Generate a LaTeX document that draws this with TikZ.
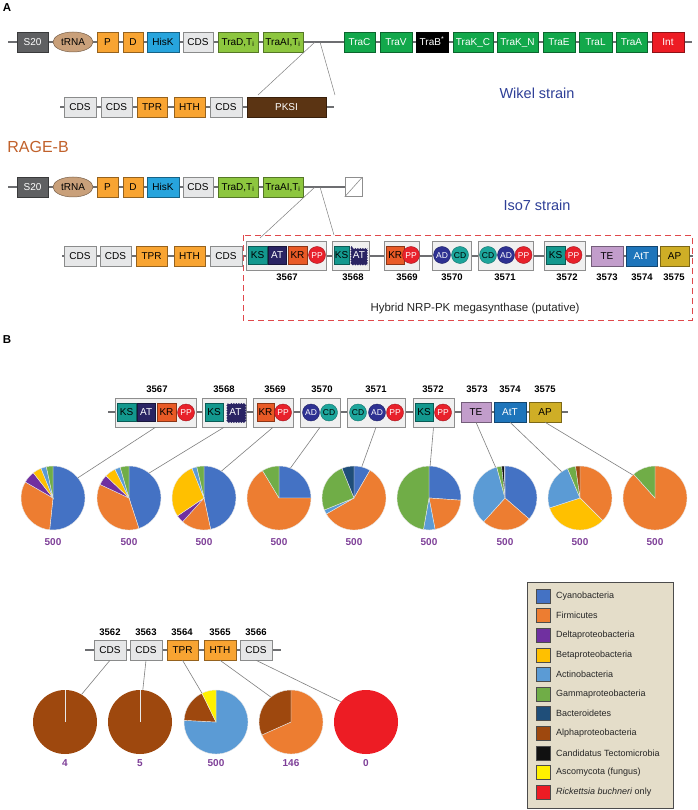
\documentclass[tikz,border=0pt]{standalone}
\usepackage{fontspec}
\setmainfont{Liberation Sans}
\usetikzlibrary{shapes.geometric,decorations.pathmorphing}
\definecolor{sTwenty}{HTML}{5F6062}
\definecolor{trnaC}{HTML}{C9A07A}
\definecolor{orgC}{HTML}{F8A432}
\definecolor{hisC}{HTML}{27A4DD}
\definecolor{cdsC}{HTML}{E6E7E8}
\definecolor{ltgC}{HTML}{8DC63F}
\definecolor{dkgC}{HTML}{12A84B}
\definecolor{intC}{HTML}{ED1C24}
\definecolor{pksC}{HTML}{5B3413}
\definecolor{ksC}{HTML}{13988E}
\definecolor{atC}{HTML}{2A2463}
\definecolor{krC}{HTML}{E95A26}
\definecolor{ppC}{HTML}{E8212B}
\definecolor{adC}{HTML}{2E3192}
\definecolor{cdC}{HTML}{1DA59B}
\definecolor{teC}{HTML}{C29DCB}
\definecolor{attC}{HTML}{1E75BB}
\definecolor{apC}{HTML}{CFAE26}
\definecolor{grpC}{HTML}{F0F0F0}
\definecolor{grpB}{HTML}{8E8E8E}
\definecolor{lineC}{HTML}{6D6E71}
\definecolor{connC}{HTML}{808080}
\definecolor{strainC}{HTML}{2E3F97}
\definecolor{rageC}{HTML}{C1612B}
\definecolor{numC}{HTML}{7E3F98}
\definecolor{legC}{HTML}{E4DDC9}
\definecolor{dashC}{HTML}{E0484B}
\definecolor{sepC}{HTML}{E8E8E8}
\definecolor{txCyano}{HTML}{4472C4}
\definecolor{txFirm}{HTML}{ED7D31}
\definecolor{txDelta}{HTML}{7030A0}
\definecolor{txBeta}{HTML}{FFC000}
\definecolor{txActino}{HTML}{5B9BD5}
\definecolor{txGamma}{HTML}{70AD47}
\definecolor{txBact}{HTML}{1F4E79}
\definecolor{txAlpha}{HTML}{9E480E}
\definecolor{txTecto}{HTML}{111111}
\definecolor{txAsco}{HTML}{FFF100}
\definecolor{txRick}{HTML}{ED1C24}
\newcommand{\gfont}{\fontsize{10}{12}\selectfont}
\newcommand{\cfont}{\fontsize{8.5}{10}\selectfont}
\newcommand{\nfont}{\bfseries\fontsize{9.5}{11}\selectfont}
\newcommand{\pfont}{\bfseries\fontsize{10}{12}\selectfont}
\newcommand{\lfont}{\fontsize{9}{11}\selectfont}
\tikzset{
  backbone/.style={draw=lineC, line width=1.3pt},
  conn/.style={draw=connC, line width=0.6pt},
  gene/.style={rectangle, fill=#1, draw=#1!60!black, line width=0.5pt, minimum height=20pt, inner sep=0pt, font=\gfont, text height=7.2pt, text depth=0.5pt},
  dom/.style={rectangle, fill=#1, draw=#1!60!black, line width=0.5pt, minimum height=18pt, inner sep=0pt, font=\gfont, text height=7.2pt, text depth=0.5pt},
  dcirc/.style={circle, fill=#1, draw=#1!70!black, line width=0.4pt, minimum size=17pt, inner sep=0pt, font=\cfont, text height=6pt, text depth=0pt},
  grp/.style={rectangle, fill=grpC, draw=grpB, line width=0.6pt, minimum height=29pt, inner sep=0pt},
  numlab/.style={font=\nfont, inner sep=0pt},
  cnt/.style={font=\pfont, text=numC, inner sep=0pt},
  pienode/.style={circle, minimum size=64pt, inner sep=0pt},
  sw/.style={rectangle, draw=black!70, line width=0.5pt, minimum size=14pt, inner sep=0pt},
  legtext/.style={font=\lfont, anchor=west, inner sep=0pt, text=black!85},
  trna/.style={ellipse, fill=trnaC, draw=trnaC!60!black, line width=0.5pt, minimum width=40pt, minimum height=20pt, inner sep=0pt, font=\gfont, text height=7.2pt, text depth=0.5pt},
}
% name x1 x2 y opts text
\newcommand{\gb}[6]{\node[#5, minimum width={#3-#2}] (#1) at ({(#2+#3)/2},#4) {#6};}
% name x y opts text
\newcommand{\dc}[5]{\node[#4] (#1) at (#2,#3) {#5};}
% name x1 x2 y text
\newcommand{\wavy}[5]{\fill[atC, decorate, decoration={snake, amplitude=0.6pt, segment length=2.5pt}] (#2,{#4-9}) rectangle (#3,{#4+9});
  \node[font=\gfont, text=white, inner sep=0pt, text height=7.2pt, text depth=0.5pt] (#1) at ({(#2+#3)/2},#4) {#5};}
% cx cy r a1 a2 colour
\newcommand{\slc}[6]{\filldraw[fill=#6, draw=sepC, line width=0.4pt] (#1,#2) -- ++({#4-90}:#3) arc[start angle={#4-90}, end angle={#5-90}, radius=#3] -- cycle;}
\newcommand{\pie}[3]{\foreach \aa/\bb/\cc in {#3} {\slc{#1}{#2}{32}{\aa}{\bb}{\cc}}}
\newcommand{\fullpie}[3]{\fill[#3] (#1,#2) circle[radius=32]; \draw[sepC, line width=0.5pt] (#1,#2) -- ++(0,-32);}
\begin{document}
\begin{tikzpicture}[x=1pt,y=-1pt]
\useasboundingbox (0,0) rectangle (697,810);
\fill[white] (0,0) rectangle (697,810);
% ---------------- Panel A ----------------
\node[font=\bfseries\fontsize{11.5}{12}\selectfont, inner sep=0pt] (labA) at (7,8) {A};
\node[font=\bfseries\fontsize{11.5}{12}\selectfont, inner sep=0pt] (labB) at (7,340) {B};
% backbones
\draw[backbone] (8,42) -- (692,42);
\draw[backbone] (60,107) -- (334,107);
\draw[backbone] (8,187) -- (345,187);
\draw[backbone] (62,256) -- (693,256);
\draw[backbone] (108,412) -- (568,412);
\draw[backbone] (85,650) -- (281,650);
% row 1
\gb{sA}{17}{48}{42}{gene=sTwenty,text=white}{S20}
\node[trna] (tA) at (73,42) {tRNA};
\gb{pA}{97}{118}{42}{gene=orgC}{P}
\gb{dA}{123}{143}{42}{gene=orgC}{D}
\gb{hA}{147}{179}{42}{gene=hisC}{HisK}
\gb{cA}{183}{213}{42}{gene=cdsC}{CDS}
\gb{tdA}{218}{258}{42}{gene=ltgC}{TraD,T\textsubscript{i}}
\gb{taA}{263}{303}{42}{gene=ltgC}{TraAI,T\textsubscript{i}}
\gb{trC}{344}{375}{42}{gene=dkgC,text=white}{TraC}
\gb{trV}{380}{412}{42}{gene=dkgC,text=white}{TraV}
\gb{trB}{416}{448}{42}{gene=black,text=white}{TraB\textsuperscript{*}}
\gb{trKC}{453}{493}{42}{gene=dkgC,text=white}{TraK\_C}
\gb{trKN}{497}{538}{42}{gene=dkgC,text=white}{TraK\_N}
\gb{trE}{543}{575}{42}{gene=dkgC,text=white}{TraE}
\gb{trL}{579}{612}{42}{gene=dkgC,text=white}{TraL}
\gb{trA}{616}{647}{42}{gene=dkgC,text=white}{TraA}
\gb{intA}{652}{684}{42}{gene=intC,text=white}{Int}
\node[font=\fontsize{14.5}{16}\selectfont, text=strainC, inner sep=0pt] (wikel) at (537,93) {Wikel strain};
% row 2 (Wikel insert)
\gb{cW1}{64}{96}{107}{gene=cdsC}{CDS}
\gb{cW2}{101}{132}{107}{gene=cdsC}{CDS}
\gb{tprW}{137}{167}{107}{gene=orgC}{TPR}
\gb{hthW}{174}{205}{107}{gene=orgC}{HTH}
\gb{cW3}{210}{242}{107}{gene=cdsC}{CDS}
\gb{pksW}{247}{326}{107}{gene=pksC,text=white}{PKSI}
\coordinate (jA1) at (315,42);
\coordinate (jA2) at (320,42);
\coordinate (wL) at (258,95);
\coordinate (wR) at (335,95);
\draw[conn, line width=0.5pt] (jA1) -- (wL);
\draw[conn, line width=0.5pt] (jA2) -- (wR);
\node[font=\fontsize{16}{18}\selectfont, text=rageC, inner sep=0pt] (rage) at (38,147) {RAGE-B};
% row 3
\gb{sB}{17}{48}{187}{gene=sTwenty,text=white}{S20}
\node[trna] (tB) at (73,187) {tRNA};
\gb{pB}{97}{118}{187}{gene=orgC}{P}
\gb{dB}{123}{143}{187}{gene=orgC}{D}
\gb{hB}{147}{179}{187}{gene=hisC}{HisK}
\gb{cB}{183}{213}{187}{gene=cdsC}{CDS}
\gb{tdB}{218}{258}{187}{gene=ltgC}{TraD,T\textsubscript{i}}
\gb{taB}{263}{303}{187}{gene=ltgC}{TraAI,T\textsubscript{i}}
\node[rectangle, draw=grpB, fill=white, line width=0.6pt, minimum width=17pt, minimum height=19pt, inner sep=0pt] (slashbox) at (353.5,187) {};
\draw[grpB, line width=0.6pt] (slashbox.south west) -- (slashbox.north east);
\node[font=\fontsize{14.5}{16}\selectfont, text=strainC, inner sep=0pt] (iso) at (537,205) {Iso7 strain};
% row 4 (Iso7 insert)
\gb{cI1}{64}{96}{256}{gene=cdsC}{CDS}
\gb{cI2}{100}{131}{256}{gene=cdsC}{CDS}
\gb{tprI}{136}{167}{256}{gene=orgC}{TPR}
\gb{hthI}{174}{205}{256}{gene=orgC}{HTH}
\gb{cI3}{210}{242}{256}{gene=cdsC}{CDS}
\gb{gI67}{246}{326}{255.5}{grp}{}
\gb{ksI67}{248}{267}{255}{dom=ksC}{KS}
\gb{atI67}{268.5}{286}{255}{dom=atC,text=white}{AT}
\gb{krI67}{288}{307}{255}{dom=krC}{KR}
\dc{ppI67}{317}{255}{dcirc=ppC,text=white}{PP}
\gb{gI68}{332}{369}{255.5}{grp}{}
\gb{ksI68}{334}{349}{255}{dom=ksC}{KS}
\wavy{atI68}{351}{367}{255}{AT}
\gb{gI69}{384}{419}{255.5}{grp}{}
\gb{krI69}{386.5}{404}{255}{dom=krC}{KR}
\dc{ppI69}{411}{255}{dcirc=ppC,text=white}{PP}
\gb{gI70}{432}{471}{255.5}{grp}{}
\dc{adI70}{442}{255}{dcirc=adC,text=white}{AD}
\dc{cdI70}{460}{255}{dcirc=cdC}{CD}
\gb{gI71}{478}{533}{255.5}{grp}{}
\dc{cdI71}{488}{255}{dcirc=cdC}{CD}
\dc{adI71}{506}{255}{dcirc=adC,text=white}{AD}
\dc{ppI71}{523.5}{255}{dcirc=ppC,text=white}{PP}
\gb{gI72}{544}{585}{255.5}{grp}{}
\gb{ksI72}{546}{565}{255}{dom=ksC}{KS}
\dc{ppI72}{573.5}{255}{dcirc=ppC,text=white}{PP}
\gb{teI}{591}{623}{256}{gene=teC}{TE}
\gb{attI}{626}{657}{256}{gene=attC,text=white}{AtT}
\gb{apI}{660}{689}{256}{gene=apC}{AP}
\node[numlab] (nI67) at (287,277) {3567};
\node[numlab] (nI68) at (353,277) {3568};
\node[numlab] (nI69) at (407,277) {3569};
\node[numlab] (nI70) at (452,277) {3570};
\node[numlab] (nI71) at (505,277) {3571};
\node[numlab] (nI72) at (567,277) {3572};
\node[numlab] (nI73) at (607,277) {3573};
\node[numlab] (nI74) at (642,277) {3574};
\node[numlab] (nI75) at (674,277) {3575};
\draw[dashC, dashed, dash pattern=on 6pt off 4pt, line width=0.8pt] (243,235) rectangle (692,320);
\node[font=\fontsize{11.5}{13}\selectfont, text=black!85, inner sep=0pt] (hyb) at (475,309) {Hybrid NRP-PK megasynthase (putative)};
\coordinate (jB1) at (315,187);
\coordinate (jB2) at (320,187);
\coordinate (iL) at (260,238);
\coordinate (iR) at (334,235);
\draw[conn, line width=0.5pt] (jB1) -- (iL);
\draw[conn, line width=0.5pt] (jB2) -- (iR);
% ---------------- Panel B ----------------
\gb{b67}{115}{196}{412.5}{grp}{}
\gb{ksB67}{117}{136}{412.5}{dom=ksC}{KS}
\gb{atB67}{137.5}{155}{412.5}{dom=atC,text=white}{AT}
\gb{krB67}{157}{176}{412.5}{dom=krC}{KR}
\dc{ppB67}{186}{412.5}{dcirc=ppC,text=white}{PP}
\gb{b68}{202}{246}{412.5}{grp}{}
\gb{ksB68}{205}{223}{412.5}{dom=ksC}{KS}
\wavy{atB68}{227}{244}{412.5}{AT}
\gb{b69}{253}{293}{412.5}{grp}{}
\gb{krB69}{257}{274}{412.5}{dom=krC}{KR}
\dc{ppB69}{283}{412.5}{dcirc=ppC,text=white}{PP}
\gb{b70}{300}{340}{412.5}{grp}{}
\dc{adB70}{311}{412.5}{dcirc=adC,text=white}{AD}
\dc{cdB70}{329}{412.5}{dcirc=cdC}{CD}
\gb{b71}{347}{405}{412.5}{grp}{}
\dc{cdB71}{358}{412.5}{dcirc=cdC}{CD}
\dc{adB71}{377}{412.5}{dcirc=adC,text=white}{AD}
\dc{ppB71}{395}{412.5}{dcirc=ppC,text=white}{PP}
\gb{b72}{413}{454}{412.5}{grp}{}
\gb{ksB72}{415}{433}{412.5}{dom=ksC}{KS}
\dc{ppB72}{443}{412.5}{dcirc=ppC,text=white}{PP}
\gb{b73}{461}{491}{412}{gene=teC}{TE}
\gb{b74}{494}{526}{412}{gene=attC,text=white}{AtT}
\gb{b75}{529}{561}{412}{gene=apC}{AP}
\node[numlab] (nB67) at (157,389) {3567};
\node[numlab] (nB68) at (224,389) {3568};
\node[numlab] (nB69) at (275,389) {3569};
\node[numlab] (nB70) at (322,389) {3570};
\node[numlab] (nB71) at (376,389) {3571};
\node[numlab] (nB72) at (433,389) {3572};
\node[numlab] (nB73) at (477,389) {3573};
\node[numlab] (nB74) at (510,389) {3574};
\node[numlab] (nB75) at (545,389) {3575};
% pies row B
\pie{53}{498}{0/186/txCyano,186/300/txFirm,300/322/txDelta,322/338/txBeta,338/348/txActino,348/360/txGamma}
\pie{129}{498}{0/162/txCyano,162/295/txFirm,295/314/txDelta,314/334/txBeta,334/344/txActino,344/360/txGamma}
\pie{204}{498}{0/168/txCyano,168/222/txFirm,222/236/txDelta,236/338/txBeta,338/347/txActino,347/360/txGamma}
\pie{279}{498}{0/90/txCyano,90/329/txFirm,329/360/txGamma}
\pie{354}{498}{0/30/txCyano,30/240/txFirm,240/248/txActino,248/338/txGamma,338/360/txBact}
\pie{429}{498}{0/94/txCyano,94/169/txFirm,169/190/txActino,190/360/txGamma}
\pie{505}{498}{0/131/txCyano,131/222/txFirm,222/345/txActino,345/354/txGamma,354/359/txTecto,359/360/txCyano}
\pie{580}{498}{0/135/txFirm,135/252/txBeta,252/337/txActino,337/352/txGamma,352/360/txAlpha}
\pie{655}{498}{0/318/txFirm,318/360/txGamma}
\node[pienode] (pB1) at (53,498) {};
\node[pienode] (pB2) at (129,498) {};
\node[pienode] (pB3) at (204,498) {};
\node[pienode] (pB4) at (279,498) {};
\node[pienode] (pB5) at (354,498) {};
\node[pienode] (pB6) at (429,498) {};
\node[pienode] (pB7) at (505,498) {};
\node[pienode] (pB8) at (580,498) {};
\node[pienode] (pB9) at (655,498) {};
\draw[conn] (b67.south) -- (pB1.39);
\draw[conn] (b68.south) -- (pB2.51);
\draw[conn] (b69.south) -- (pB3.57);
\draw[conn] (b70.south) -- (pB4.69);
\draw[conn] (b71.south) -- (pB5.76);
\draw[conn] (b72.south) -- (pB6.88);
\draw[conn] (b73.south) -- (pB7.107);
\draw[conn] (b74.south) -- (pB8.125);
\draw[conn] (b75.south) -- (pB9.134);
\foreach \i/\x in {1/53,2/129,3/204,4/279,5/354,6/429,7/505,8/580,9/655}
  \node[cnt] (cB\i) at (\x,542) {500};
% ---------------- lower genes ----------------
\gb{g62}{94}{126}{650}{gene=cdsC}{CDS}
\gb{g63}{130}{162}{650}{gene=cdsC}{CDS}
\gb{g64}{167}{198}{650}{gene=orgC}{TPR}
\gb{g65}{204}{236}{650}{gene=orgC}{HTH}
\gb{g66}{240}{272}{650}{gene=cdsC}{CDS}
\node[numlab] (n62) at (110,632) {3562};
\node[numlab] (n63) at (146,632) {3563};
\node[numlab] (n64) at (182,632) {3564};
\node[numlab] (n65) at (220,632) {3565};
\node[numlab] (n66) at (256,632) {3566};
\fullpie{65}{722}{txAlpha}
\fullpie{140}{722}{txAlpha}
\pie{216}{722}{0/273/txActino,273/334/txAlpha,334/360/txAsco}
\pie{291}{722}{0/246/txFirm,246/360/txAlpha}
\fill[txRick] (366,722) circle[radius=32];
\node[pienode] (pC1) at (65,722) {};
\node[pienode] (pC2) at (140,722) {};
\node[pienode] (pC3) at (216,722) {};
\node[pienode] (pC4) at (291,722) {};
\node[pienode] (pC5) at (366,722) {};
\draw[conn] (g62.south) -- (pC1.59);
\draw[conn] (g63.south) -- (pC2.85);
\draw[conn] (g64.south) -- (pC3.116);
\draw[conn] (g65.south) -- (pC4.129);
\draw[conn] (g66.south) -- (pC5.141);
\node[cnt] (cC1) at (65,763) {4};
\node[cnt] (cC2) at (140,763) {5};
\node[cnt] (cC3) at (216,763) {500};
\node[cnt] (cC4) at (291,763) {146};
\node[cnt] (cC5) at (366,763) {0};
% ---------------- legend ----------------
\node[rectangle, draw=black!70, fill=legC, line width=0.7pt, minimum width=146pt, minimum height=226pt, anchor=north west, inner sep=0pt] (leg) at (527,582) {};
\foreach \i/\c/\t in {0/txCyano/Cyanobacteria,1/txFirm/Firmicutes,2/txDelta/Deltaproteobacteria,3/txBeta/Betaproteobacteria,4/txActino/Actinobacteria,5/txGamma/Gammaproteobacteria,6/txBact/Bacteroidetes,7/txAlpha/Alphaproteobacteria,8/txTecto/Candidatus Tectomicrobia,9/txAsco/Ascomycota (fungus),10/txRick/{\itshape Rickettsia buchneri} only}
{
  \node[sw, fill=\c] (sw\i) at (543,{596+19.6*\i}) {};
  \node[legtext] (lt\i) at (556,{596+19.6*\i}) {\t};
}
\end{tikzpicture}
\end{document}
